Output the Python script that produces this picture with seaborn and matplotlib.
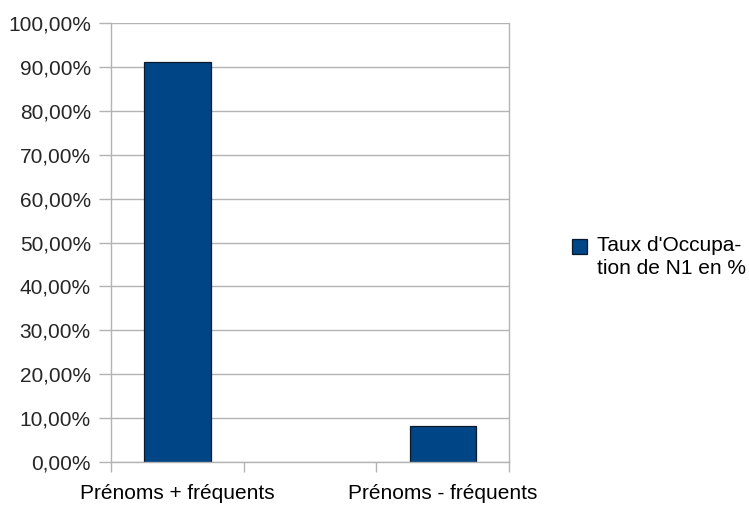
import numpy as np
import pandas as pd
import matplotlib
matplotlib.use("Agg")
import matplotlib.pyplot as plt
from matplotlib.ticker import FuncFormatter, FixedLocator
from matplotlib.patches import Rectangle
import seaborn as sns

# Data
categories = ["Prénoms + fréquents", " ", "Prénoms - fréquents"]
occupation_pct = [91.1, np.nan, 8.1]
series_label = "Taux d'Occupa-\ntion de N1 en %"

sns.set_style("white")
plt.rcParams["font.family"] = ["Liberation Sans", "DejaVu Sans"]

df = pd.DataFrame({"cat": categories, "val": occupation_pct})

W, H = 749, 505
fig = plt.figure(figsize=(W / 100, H / 100), dpi=100)
ax = fig.add_axes([111 / W, 1 - 462 / H, (509 - 111) / W, (462 - 23) / H])

bar_color = "#004586"
edge_color = "#0a1a2a"
grid_color = "#b3b3b3"
font_size = 15

sns.barplot(data=df, x="cat", y="val", order=categories, color=bar_color,
            edgecolor=edge_color, linewidth=0.9, width=0.5, saturation=1, ax=ax)

ax.set_ylim(0, 100)
ax.set_xlim(-0.5, len(categories) - 0.5)
ax.set_yticks(np.arange(0, 101, 10))
ax.yaxis.set_major_formatter(FuncFormatter(lambda v, _: f"{v:.2f}".replace(".", ",") + "%"))
ax.yaxis.grid(True, color=grid_color, linewidth=1)
ax.set_axisbelow(True)

ax.set_xlabel("")
ax.set_ylabel("")
ax.set_xticks([0, 2])
ax.set_xticklabels([categories[0], categories[2]])
ax.xaxis.set_minor_locator(FixedLocator(np.arange(-0.5, len(categories), 1.0)))
ax.tick_params(axis="x", which="major", length=0, pad=16, labelsize=font_size, colors="#000000")
ax.tick_params(axis="x", which="minor", length=7.5, width=1, color=grid_color, direction="out")
ax.tick_params(axis="y", which="major", length=8.5, width=1, color=grid_color, direction="out",
               labelsize=font_size, pad=6)
ax.xaxis.set_tick_params(bottom=True, which="both")
ax.yaxis.set_tick_params(left=True)

for side in ["left", "right", "bottom"]:
    ax.spines[side].set_visible(True)
    ax.spines[side].set_color(grid_color)
    ax.spines[side].set_linewidth(1)
ax.spines["top"].set_visible(False)

# Legend: colour key aligned with the first line of the wrapped series name
fig.patches.append(Rectangle((572 / W, 1 - 254 / H), 15 / W, 15 / H,
                             transform=fig.transFigure, facecolor=bar_color,
                             edgecolor=edge_color, linewidth=0.9))
fig.text(597 / W, 1 - 236 / H, series_label, fontsize=font_size, va="top", ha="left",
         linespacing=1.3, color="#000000")

fig.savefig("out.png", dpi=100)
